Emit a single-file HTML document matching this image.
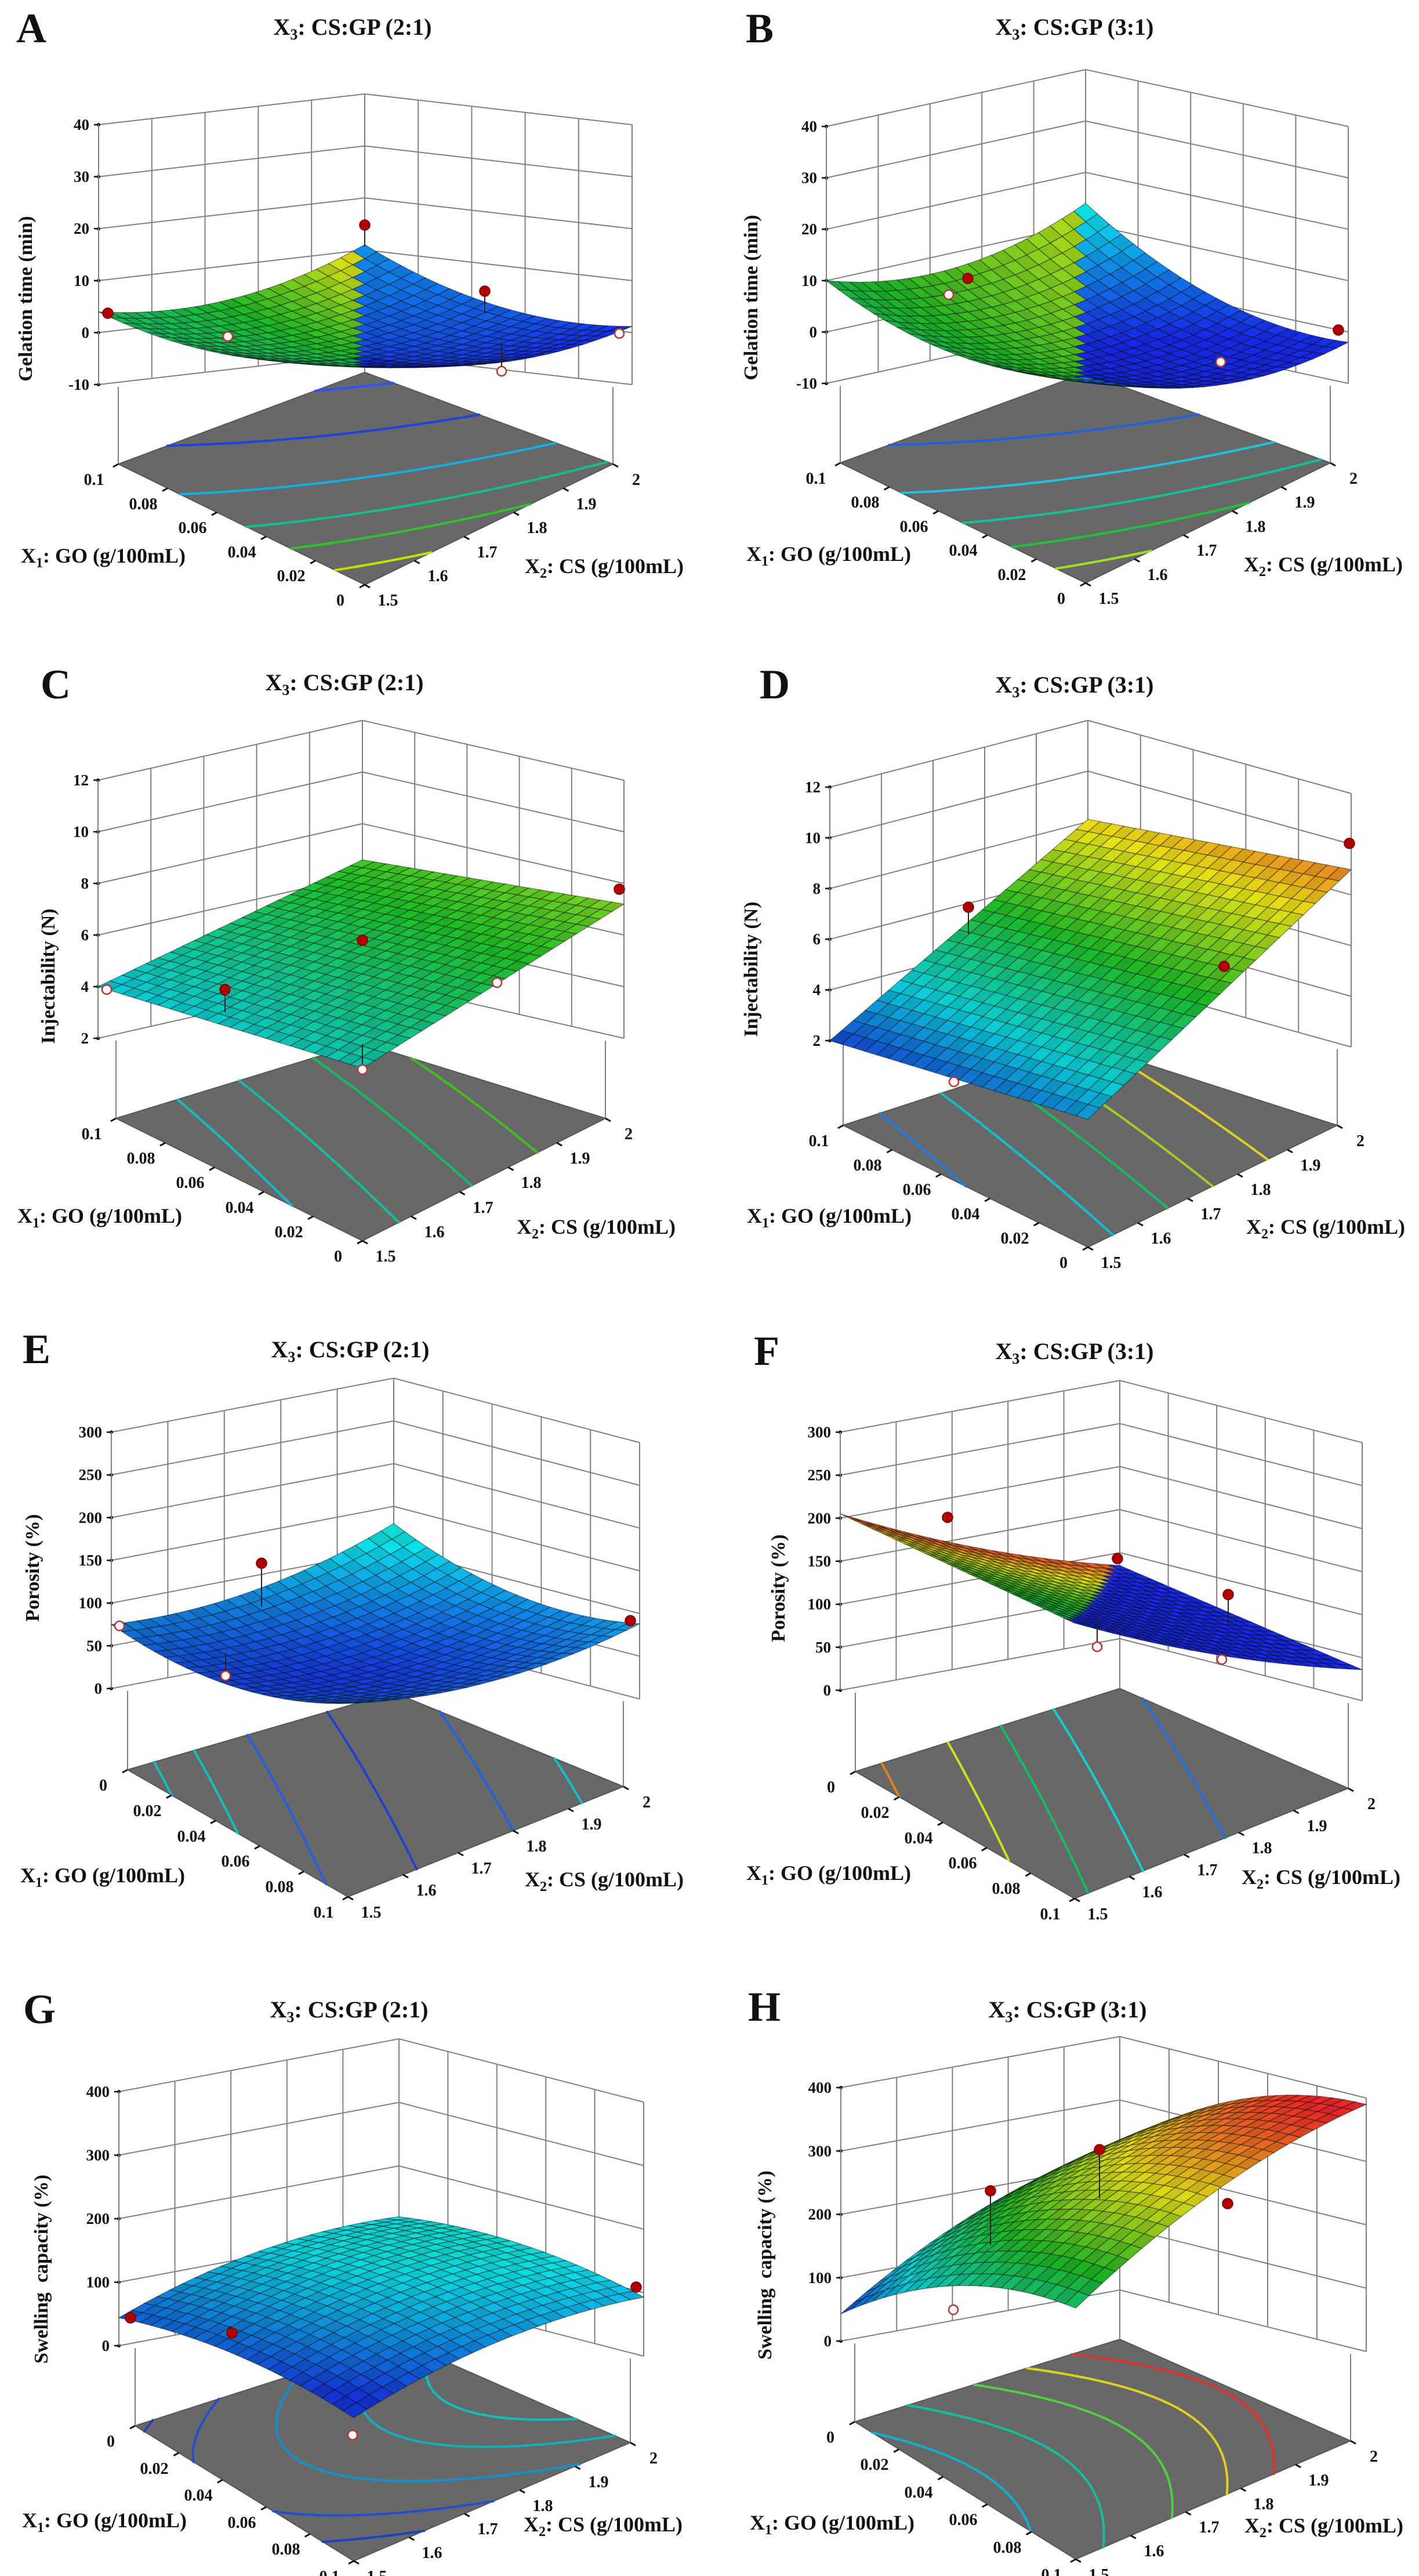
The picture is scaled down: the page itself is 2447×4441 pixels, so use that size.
<!DOCTYPE html>
<html><head><meta charset="utf-8">
<style>
html,body{margin:0;padding:0;background:#fff;}
svg{display:block;}
text{font-family:"Liberation Serif","DejaVu Serif",serif;font-weight:bold;fill:#111;}
</style></head>
<body>
<div id="wrap"></div>
<script>
(function(){
var W=2447,H=4441;
var o=[];
function stops(t){
  var S=[[0,[25,25,235]],[0.25,[10,225,235]],[0.5,[30,195,40]],[0.75,[235,230,20]],[1,[235,40,40]]];
  if(t<0)t=0;if(t>1)t=1;
  for(var i=0;i<S.length-1;i++){if(t<=S[i+1][0]){var a=S[i],b=S[i+1],k=(t-a[0])/(b[0]-a[0]);
    return [a[1][0]+(b[1][0]-a[1][0])*k,a[1][1]+(b[1][1]-a[1][1])*k,a[1][2]+(b[1][2]-a[1][2])*k];}}
  return S[4][1];
}
function rgb(c,f){f=f||1;return 'rgb('+Math.round(Math.min(255,c[0]*f))+','+Math.round(Math.min(255,c[1]*f))+','+Math.round(Math.min(255,c[2]*f))+')';}
function L(x1,y1,x2,y2,c,w){o.push('<line x1="'+x1.toFixed(1)+'" y1="'+y1.toFixed(1)+'" x2="'+x2.toFixed(1)+'" y2="'+y2.toFixed(1)+'" stroke="'+c+'" stroke-width="'+w+'"/>');}
function T(x,y,s,size,anchor,extra){o.push('<text x="'+x+'" y="'+y+'" font-size="'+size+'" text-anchor="'+(anchor||'start')+'" '+(extra||'')+'>'+s+'</text>');}
function bil(P,u,v){return [(1-u)*(1-v)*P.F[0]+u*(1-v)*P.L[0]+(1-u)*v*P.R[0]+u*v*P.B[0],(1-u)*(1-v)*P.F[1]+u*(1-v)*P.L[1]+(1-u)*v*P.R[1]+u*v*P.B[1]];}
function surfF(c){return function(u,v){return (1-u)*(1-v)*c[0]+u*(1-v)*c[1]+(1-u)*v*c[2]+u*v*c[3]+c[4]*4*u*(1-u)+c[5]*4*v*(1-v);};}

var panels=[
{l:'A',lp:[28,73],tp:[608,60],r:'2:1',yl:'Gelation time (min)',ylp:[47,515],bt:[629,162],lx:170,rx:1090,sy:215,dR:0,ticks:[-10,0,10,20,30,40],y0:663,
 fl:{L:[204,800],R:[1057,800],B:[629,642],F:[629,1008]},rev:false,x1t:[178,970],x2t:[1042,988],
 f:surfF([3,4,1.2,11,-4,-4]),col:function(u,v,z){return u>v+0.03?stops(0.42+0.38*v*v):stops(0.03+0.12*u*v);},
 fc:function(u,v){return u+0.45*v+0.3*u*v;},lev:[[0.12,'#c8e000'],[0.3,'#30c030'],[0.48,'#10c090'],[0.75,'#10b0e0'],[1.15,'#2040e0'],[1.6,'#3050ff']],
 dots:[[186,540,1],[629,388,1,425],[836,502,1,540],[393,580,0],[865,640,0,592],[1068,575,0]]},
{l:'B',lp:[1286,73],tp:[1853,60],r:'3:1',yl:'Gelation time (min)',ylp:[1298,513],bt:[1872,120],lx:1425,rx:2325,sy:218,dR:0,ticks:[-10,0,10,20,30,40],y0:661,
 fl:{L:[1449,798],R:[2294,798],B:[1872,643],F:[1872,1005]},rev:false,x1t:[1429,967],x2t:[2282,985],
 f:surfF([6,10,-2,14,-5,-5]),col:function(u,v,z){return u>v+0.03?stops(0.45+0.25*v):stops(0.02+0.26*Math.max(0,(z+3)/17));},
 fc:function(u,v){return u+0.45*v+0.3*u*v;},lev:[[0.12,'#a0e020'],[0.3,'#20c040'],[0.5,'#10c0a0'],[0.75,'#20c0e0'],[1.15,'#2060e0'],[1.7,'#20c0e0']],
 dots:[[1669,480,1],[1636,508,0],[2308,569,1],[2105,624,0]]},
{l:'C',lp:[70,1204],tp:[594,1190],r:'2:1',yl:'Injectability (N)',ylp:[86,1683],bt:[625,1242],lx:169,rx:1076,sy:1345,dR:0,ticks:[2,4,6,8,10,12],y0:1790,
 fl:{L:[200,1928],R:[1044,1928],B:[625,1798],F:[625,2139]},rev:false,x1t:[172,2108],x2t:[1028,2127],
 f:surfF([4.6,4,7.2,6.6,0,0]),col:function(u,v,z){return stops((z-2)/8.5);},
 fc:function(u,v){return v-0.35*u;},lev:[[-0.1,'#10c0c0'],[0.15,'#10c0a0'],[0.45,'#10c060'],[0.72,'#40c020']],
 dots:[[184,1706,0],[388,1706,1,1745],[625,1621,1],[857,1694,0],[1068,1533,1],[625,1844,0,1800]]},
{l:'D',lp:[1310,1204],tp:[1853,1194],r:'3:1',yl:'Injectability (N)',ylp:[1298,1671],bt:[1876,1242],lx:1431,rx:2330,sy:1357,dR:11,ticks:[2,4,6,8,10,12],y0:1794,
 fl:{L:[1454,1940],R:[2306,1940],B:[1876,1802],F:[1876,2150]},rev:false,x1t:[1430,2108],x2t:[2286,2127],
 f:surfF([2.9,2,9,8.1,0,0]),col:function(u,v,z){return stops((z-1.5)/8.5);},
 fc:function(u,v){return v-0.3*u;},lev:[[-0.15,'#2080e0'],[0.1,'#10c0d0'],[0.32,'#10c060'],[0.5,'#a0d020'],[0.72,'#e0d020']],
 dots:[[1645,1865,0],[1670,1564,1,1610],[2111,1666,1],[2327,1454,1]]},
{l:'E',lp:[39,2350],tp:[604,2340],r:'2:1',yl:'Porosity (%)',ylp:[59,2703],bt:[679,2376],lx:192,rx:1103,sy:2469,dR:18,ticks:[0,50,100,150,200,250,300],y0:2911,
 fl:{L:[220,3051],R:[1075,3080],B:[679,2918],F:[600,3270]},rev:true,x1t:[177,3245],x2t:[1042,3252],
 f:surfF([70,75,88,130,-25,-20]),col:function(u,v,z){return stops(0.03+0.27*Math.max(0,(z-35)/95));},
 fc:function(u,v){return v-0.5*u;},lev:[[-0.4,'#10c0c0'],[-0.25,'#10c0c0'],[-0.05,'#2060e0'],[0.25,'#2040d0'],[0.6,'#2060e0'],[0.85,'#10c0d0']],
 dots:[[206,2803,0],[451,2695,1,2770],[389,2889,0,2850],[1087,2794,1]]},
{l:'F',lp:[1300,2353],tp:[1853,2343],r:'3:1',yl:'Porosity (%)',ylp:[1345,2738],bt:[1931,2380],lx:1449,rx:2349,sy:2469,dR:18,ticks:[0,50,100,150,200,250,300],y0:2914,
 fl:{L:[1475,3054],R:[2325,3083],B:[1931,2911],F:[1853,3273]},rev:true,x1t:[1429,3241],x2t:[2278,3248],
 f:surfF([156,205,36,85,0,-10]),col:function(u,v,z){return u>v+0.03?stops(0.45+0.5*u*u):stops(0.02);},
 fc:function(u,v){return v-0.5*u;},lev:[[-0.4,'#e08020'],[-0.15,'#d0e020'],[0.05,'#10c060'],[0.25,'#10d0d0'],[0.55,'#2070e0']],
 dots:[[1634,2616,1],[1927,2687,1],[1892,2839,0,2790],[2118,2749,1,2800],[2107,2861,0]]},
{l:'G',lp:[40,3488],tp:[602,3478],r:'2:1',yl:'Swelling&#160;&#160;capacity (%)',ylp:[74,3912],bt:[688,3515],lx:205,rx:1110,sy:3606,dR:18,ticks:[0,100,200,300,400],y0:4044,
 fl:{L:[233,4182],R:[1087,4211],B:[688,4036],F:[610,4415]},rev:true,x1t:[180,4357],x2t:[1040,4364],
 f:surfF([0,44,93,120,20,25]),col:function(u,v,z){return stops(0.04+0.24*Math.max(0,(z-20)/110));},
 fc:function(u,v){return 1.5*(u-0.55)*(u-0.55)+0.8*(1-v);},lev:[[0.15,'#10c0c0'],[0.35,'#10b0c0'],[0.6,'#1090d0'],[0.85,'#2050d0'],[1.05,'#2040c0']],
 dots:[[225,3996,1],[400,4022,1],[1097,3943,1],[608,4198,0]]},
{l:'H',lp:[1290,3484],tp:[1841,3478],r:'3:1',yl:'Swelling&#160;&#160;capacity (%)',ylp:[1322,3905],bt:[1931,3511],lx:1450,rx:2356,sy:3599,dR:18,ticks:[0,100,200,300,400],y0:4036,
 fl:{L:[1474,4175],R:[2329,4208],B:[1931,4033],F:[1855,4412]},rev:true,x1t:[1435,4361],x2t:[2283,4366],
 f:surfF([164,43,390,230,40,30]),col:function(u,v,z){return stops((z-25)/355);},
 fc:function(u,v){return v+0.8*(u-0.5)*(u-0.5)-0.1*u;},lev:[[0.05,'#10b0d0'],[0.3,'#10c0a0'],[0.55,'#50d040'],[0.75,'#e0d020'],[0.92,'#e03030']],
 dots:[[1708,3777,1,3870],[1644,3982,0],[1896,3706,1,3790],[2117,3799,1]]}
];

panels.forEach(function(p){
  var t0=p.ticks[0],tN=p.ticks[p.ticks.length-1];
  function Y(z){return p.y0+(z-t0)/(tN-t0)*(p.sy-p.y0);}
  var bx=p.bt[0],dB=p.sy-p.bt[1];
  var fl=p.fl,mid=(fl.L[1]+fl.R[1])/2;
  var dF=dB*(fl.F[1]-mid)/(mid-fl.B[1]);
  var g='#808080',gw=2;
  o.push('<polygon points="'+fl.F.join(',')+' '+fl.L.join(',')+' '+fl.B.join(',')+' '+fl.R.join(',')+'" fill="#686868" stroke="#555" stroke-width="2"/>');
  var N=48;
  p.lev.forEach(function(lv){
    var c=lv[0],col=lv[1],d='';
    for(var i=0;i<N;i++)for(var j=0;j<N;j++){
      var u0=i/N,u1=(i+1)/N,v0=j/N,v1=(j+1)/N;
      var P=[[u0,v0],[u1,v0],[u1,v1],[u0,v1]];
      var V=P.map(function(q){return p.fc(q[0],q[1])-c;});
      var pts=[];
      for(var k=0;k<4;k++){var a=V[k],b=V[(k+1)%4];
        if((a<0)!==(b<0)){var t=a/(a-b);var A=P[k],B=P[(k+1)%4];pts.push([A[0]+(B[0]-A[0])*t,A[1]+(B[1]-A[1])*t]);}}
      for(var m=0;m+1<pts.length;m+=2){var s1=bil(fl,pts[m][0],pts[m][1]),s2=bil(fl,pts[m+1][0],pts[m+1][1]);
        d+='M'+s1[0].toFixed(1)+' '+s1[1].toFixed(1)+'L'+s2[0].toFixed(1)+' '+s2[1].toFixed(1);}
    }
    if(d)o.push('<path d="'+d+'" stroke="'+col+'" stroke-width="4" fill="none" stroke-linecap="round"/>');
  });
  p.ticks.forEach(function(t){var y=Y(t);L(p.lx,y,bx,y-dB,g,gw);L(bx,y-dB,p.rx,y+p.dR,g,gw);
    L(p.lx-8,y,p.lx,y,'#111',2.5);o.push('<circle cx="'+p.lx+'" cy="'+y.toFixed(1)+'" r="3" fill="#111"/>');
    T(p.lx-16,(y+9).toFixed(1),String(t),27,'end');});
  var yb=Y(t0);
  for(var i=0;i<=5;i++){
    var x=p.lx+(bx-p.lx)*i/5,yt=p.sy+(p.bt[1]-p.sy)*i/5,yy=yb-dB*i/5;
    L(x,yt,x,i==5?fl.B[1]:yy,g,gw);
    var x2=bx+(p.rx-bx)*i/5,yt2=p.bt[1]+(p.sy+p.dR-p.bt[1])*i/5,yy2=yb-dB+(dB+p.dR)*i/5;
    if(i>0)L(x2,yt2,x2,yy2,g,gw);
  }
  L(fl.L[0],fl.L[1],fl.L[0],yb+4,g,gw);
  L(fl.R[0],fl.R[1],fl.R[0],yb+p.dR+4,g,gw);
  var x1v=['0','0.02','0.04','0.06','0.08','0.1'],x2v=['1.5','1.6','1.7','1.8','1.9','2'];
  for(var i=0;i<=5;i++){
    var k=i/5;
    var a=[fl.F[0]+(fl.L[0]-fl.F[0])*k,fl.F[1]+(fl.L[1]-fl.F[1])*k];
    var b=[fl.F[0]+(fl.R[0]-fl.F[0])*k,fl.F[1]+(fl.R[1]-fl.F[1])*k];
    L(a[0],a[1],a[0]-9,a[1]+5,'#111',3);L(b[0],b[1],b[0]+9,b[1]+5,'#111',3);
    var lab=p.rev?x1v[5-i]:x1v[i];
    T((a[0]-42).toFixed(0),(a[1]+36).toFixed(0),lab,28,'middle');
    T((b[0]+40).toFixed(0),(b[1]+36).toFixed(0),x2v[i],28,'middle');
  }
  var n=22,q=[];
  function proj(u,v){var z=p.f(u,v),y0=Y(z);
    var Fp=[fl.F[0],y0+dF],Lp=[p.lx,y0],Rp=[p.rx,y0+p.dR],Bp=[bx,y0-dB];
    return [(1-u)*(1-v)*Fp[0]+u*(1-v)*Lp[0]+(1-u)*v*Rp[0]+u*v*Bp[0],(1-u)*(1-v)*Fp[1]+u*(1-v)*Lp[1]+(1-u)*v*Rp[1]+u*v*Bp[1]];}
  for(var i=0;i<n;i++)for(var j=0;j<n;j++){
    var u0=i/n,u1=(i+1)/n,v0=j/n,v1=(j+1)/n,uc=(u0+u1)/2,vc=(v0+v1)/2;
    var pts=[proj(u0,v0),proj(u1,v0),proj(u1,v1),proj(u0,v1)];
    var c=p.col(uc,vc,p.f(uc,vc));
    var sh=0.82+0.25*((i+j)%2?0:0.3)+0.1*vc;
    q.push({d:uc+vc,s:'<polygon points="'+pts.map(function(a){return a[0].toFixed(1)+','+a[1].toFixed(1);}).join(' ')+'" fill="'+rgb(c,sh)+'" stroke="rgba(0,0,0,0.45)" stroke-width="1.3"/>'});
  }
  q.sort(function(a,b){return b.d-a.d;});
  q.forEach(function(e){o.push(e.s);});
  p.dots.forEach(function(d){
    if(d[3])L(d[0],d[1],d[0],d[3],'#222',2);
    if(d[2])o.push('<circle cx="'+d[0]+'" cy="'+d[1]+'" r="9" fill="#b00000" stroke="#700" stroke-width="1.5"/>');
    else o.push('<circle cx="'+d[0]+'" cy="'+d[1]+'" r="8" fill="#fff" stroke="#c03030" stroke-width="2.5"/>');
  });
  T(p.lp[0],p.lp[1],p.l,72,'start');
  T(p.tp[0],p.tp[1],'X<tspan font-size="26" dy="8">3</tspan><tspan dy="-8">: CS:GP ('+p.r+')</tspan>',40,'middle');
  o.push('<text x="'+p.ylp[0]+'" y="'+p.ylp[1]+'" font-size="34" text-anchor="middle" dominant-baseline="middle" transform="rotate(-90 '+p.ylp[0]+' '+p.ylp[1]+')">'+p.yl+'</text>');
  T(p.x1t[0],p.x1t[1],'X<tspan font-size="24" dy="8">1</tspan><tspan dy="-8">: GO (g/100mL)</tspan>',36,'middle');
  T(p.x2t[0],p.x2t[1],'X<tspan font-size="24" dy="8">2</tspan><tspan dy="-8">: CS (g/100mL)</tspan>',36,'middle');
});
document.getElementById('wrap').innerHTML='<svg xmlns="http://www.w3.org/2000/svg" width="'+W+'" height="'+H+'" viewBox="0 0 '+W+' '+H+'">'+o.join('')+'</svg>';
})();
</script>
</body></html>
